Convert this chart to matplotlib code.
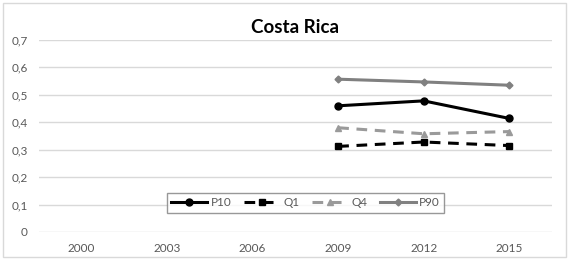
import matplotlib
matplotlib.use("Agg")
import matplotlib.pyplot as plt
from matplotlib.patches import Rectangle

years = ['2000', '2003', '2006', '2009', '2012', '2015']
p10 = [None, None, None, 0.460, 0.478, 0.414]
q1 = [None, None, None, 0.312, 0.328, 0.315]
q4 = [None, None, None, 0.380, 0.358, 0.366]
p90 = [None, None, None, 0.557, 0.547, 0.535]
yticks = [0, 0.1, 0.2, 0.3, 0.4, 0.5, 0.6, 0.7]
ylabels = ['0', '0,1', '0,2', '0,3', '0,4', '0,5', '0,6', '0,7']

plt.rcParams['font.family'] = ['Lato', 'DejaVu Sans']

fig = plt.figure(figsize=(5.72, 2.63), dpi=100)
ax = fig.add_axes([0.068, 0.118, 0.897, 0.730])

x = list(range(len(years)))
ax.plot(x, p10, color='black', lw=2.2, marker='o', ms=5, label='P10')
ax.plot(x, q1, color='black', lw=2.2, ls=(0, (3.5, 2.5)), marker='s', ms=5, label='Q1')
ax.plot(x, q4, color='#9a9a9a', lw=2.2, ls=(0, (3.5, 2.5)), marker='^', ms=5, label='Q4')
ax.plot(x, p90, color='#808080', lw=2.2, marker='D', ms=3.5, label='P90')

ax.set_xlim(-0.5, len(years) - 0.5)
ax.set_ylim(0, 0.7)
ax.set_xticks(x)
ax.set_xticklabels(years)
ax.set_yticks(yticks)
ax.set_yticklabels(ylabels)
ax.tick_params(length=0, labelsize=8.5, colors='#595959', pad=8)
ax.grid(axis='y', color='#d9d9d9', lw=1)
ax.set_axisbelow(True)
for s in ax.spines.values():
    s.set_visible(False)

ax.set_title('Costa Rica', fontsize=13.5, fontweight='bold', pad=5)

leg = ax.legend(loc='center', bbox_to_anchor=(0.52, 0.151), ncol=4, fontsize=8.5,
                frameon=True, fancybox=False, edgecolor='#7f7f7f',
                handlelength=3.0, columnspacing=1.1, handletextpad=0.3,
                borderpad=0.35)
leg.get_frame().set_linewidth(1)
for t in leg.get_texts():
    t.set_color('#595959')

# grey frame around the whole chart
fig.patches.append(Rectangle((3 / 572, 1 - 257 / 263), 563 / 572, 254 / 263,
                             transform=fig.transFigure, fill=False,
                             edgecolor='#d9d9d9', lw=1))

fig.savefig('out.png', dpi=100)
